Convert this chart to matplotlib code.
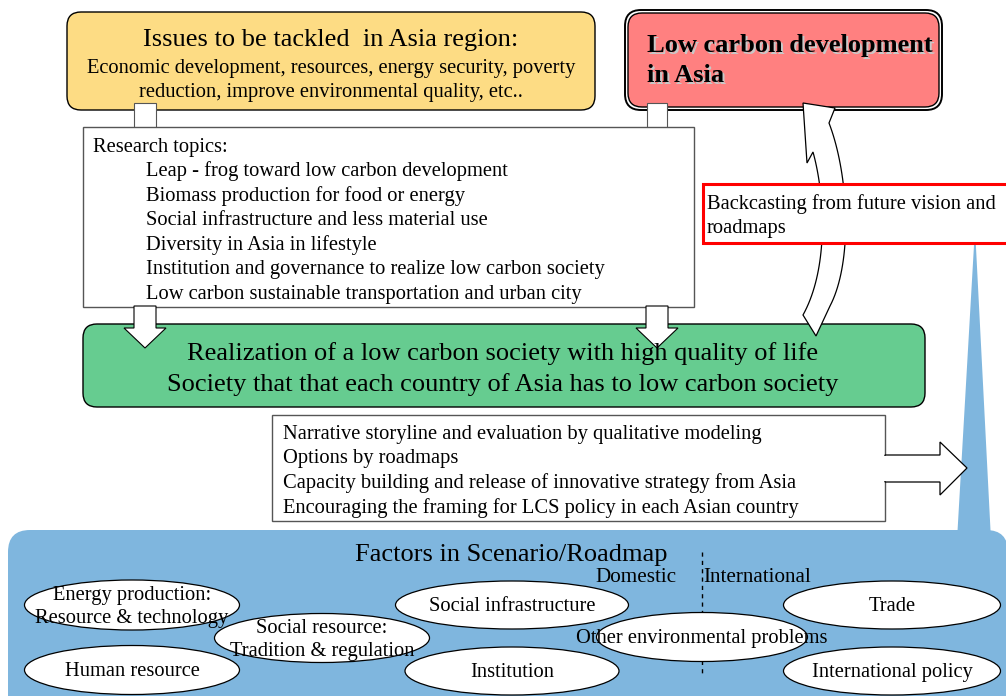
import numpy as np
import matplotlib
matplotlib.use("Agg")
import matplotlib.pyplot as plt
from matplotlib.patches import FancyBboxPatch, Rectangle, Ellipse, Polygon

plt.rcParams["font.family"] = ["Liberation Serif", "DejaVu Serif"]

# --- texts -------------------------------------------------------------
issues_title = "Issues to be tackled  in Asia region:"
issues_lines = ["Economic development, resources, energy security, poverty",
                "reduction, improve environmental quality, etc.."]
goal_lines = ["Low carbon development", "in Asia"]
topics_head = "Research topics:"
topics = ["Leap - frog toward low carbon development",
          "Biomass production for food or energy",
          "Social infrastructure and less material use",
          "Diversity in Asia in lifestyle",
          "Institution and governance to realize low carbon society",
          "Low carbon sustainable transportation and urban city"]
backcast_lines = ["Backcasting from future vision and", "roadmaps"]
society_lines = ["Realization of a low carbon society with high quality of life",
                 "Society that that each country of Asia has to low carbon society"]
outputs = ["Narrative storyline and evaluation by qualitative modeling",
           "Options by roadmaps",
           "Capacity building and release of innovative strategy from Asia",
           "Encouraging the framing for LCS policy in each Asian country"]
factors_title = "Factors in Scenario/Roadmap"
factors = ["Energy production:\nResource & technology", "Human resource",
           "Social resource:\nTradition & regulation", "Social infrastructure",
           "Institution", "Other environmental problems", "Trade",
           "International policy"]
scope_labels = ["Domestic", "International"]

YELLOW = "#FDDC84"
RED = "#FF8080"
GREEN = "#66CC90"
BLUE = "#7FB6DE"
FS = 14.8  # body text size

fig = plt.figure(figsize=(10.06, 6.96), dpi=100)
ax = fig.add_axes([0, 0, 1, 1])
ax.set_xlim(0, 1006)
ax.set_ylim(696, 0)
ax.axis("off")


def rbox(x, y, w, h, fc, ec="black", r=14, lw=1.0, z=1):
    p = FancyBboxPatch((x, y), w, h, boxstyle=f"round,pad=0,rounding_size={r}",
                       fc=fc, ec=ec, lw=lw, zorder=z)
    ax.add_patch(p)


def down_arrow(xc, y0, y1, shaft=22, head=42, head_len=20, z=3):
    hs, hh = shaft / 2, head / 2
    yb = y1 - head_len
    pts = [(xc - hs, y0), (xc + hs, y0), (xc + hs, yb), (xc + hh, yb),
           (xc, y1), (xc - hh, yb), (xc - hs, yb)]
    ax.add_patch(Polygon(pts, closed=True, fc="white", ec="black", lw=0.8, zorder=z))


def bezier(p, n=40):
    p = np.asarray(p, dtype=float)
    t = np.linspace(0, 1, n)[:, None]
    return ((1 - t) ** 3 * p[0] + 3 * (1 - t) ** 2 * t * p[1]
            + 3 * (1 - t) * t ** 2 * p[2] + t ** 3 * p[3])


# --- blue factor panel and spike ----------------------------------------
ax.add_patch(Polygon([(975, 228), (991, 540), (957, 540)], closed=True,
                     fc=BLUE, ec="none", zorder=1))
rbox(8, 530, 1000, 200, BLUE, ec="none", r=22, z=1)

# --- top boxes -------------------------------------------------------
rbox(67, 12, 528, 98, YELLOW, lw=1.0, z=2)
ax.text(331, 46, issues_title, ha="center", va="baseline", fontsize=19, zorder=5)
for i, s in enumerate(issues_lines):
    ax.text(331, 73 + 24 * i, s, ha="center", va="baseline", fontsize=FS, zorder=5)

rbox(625, 10, 317, 100, "white", lw=1.4, r=16, z=2)
rbox(628, 13, 311, 94, RED, lw=1.0, r=14, z=2)
for i, s in enumerate(goal_lines):
    ax.text(649, 54 + 30 * i, s, ha="left", va="baseline", fontsize=19,
            fontweight="bold", color="#C8C8C8", zorder=4)
    ax.text(647, 52 + 30 * i, s, ha="left", va="baseline", fontsize=19,
            fontweight="bold", color="black", zorder=5)

# connectors from issues box into topics box
for x0, x1 in [(134, 156), (647, 667)]:
    ax.add_patch(Rectangle((x0, 103), x1 - x0, 26, fc="white", ec="#555555",
                           lw=0.8, zorder=3))

# --- research topics box ------------------------------------------
ax.add_patch(Rectangle((83, 127), 611, 180, fc="white", ec="#555555", lw=1.0, zorder=3))
ax.text(93, 152, topics_head, ha="left", va="baseline", fontsize=FS, zorder=5)
for i, s in enumerate(topics):
    ax.text(146, 176 + 24.6 * i, s, ha="left", va="baseline", fontsize=FS, zorder=5)

# --- society box ------------------------------------------------------
rbox(83, 324, 842, 83, GREEN, lw=1.0, r=14, z=2)
for i, s in enumerate(society_lines):
    ax.text(503, 360 + 31 * i, s, ha="center", va="baseline", fontsize=19, zorder=6)

down_arrow(145, 306, 348)
down_arrow(657, 306, 348)

# --- curved backcasting arrow -----------------------------------------
left_edge = bezier([(813, 152), (825, 195), (829, 268), (803, 315)])
right_edge = bezier([(829, 123), (849, 175), (853, 262), (830, 306)])
head = [(829, 123), (835, 108), (803, 103), (807, 163), (813, 152)]
tail = [(816, 336)]
outline = np.vstack([head, left_edge, tail, right_edge[::-1]])
ax.add_patch(Polygon(outline, closed=True, fc="white", ec="black", lw=0.9, zorder=4))

# --- backcasting label -------------------------------------------------
ax.add_patch(Rectangle((703, 184), 310, 59, fc="white", ec="#FF0000", lw=2.2, zorder=5))
for i, s in enumerate(backcast_lines):
    ax.text(707, 209 + 24 * i, s, ha="left", va="baseline", fontsize=FS, zorder=6)

# --- outputs box with right arrow ---------------------------------------
ax.add_patch(Rectangle((272, 415), 613, 106, fc="white", ec="#555555", lw=1.0, zorder=3))
arrow_pts = [(885, 455), (940, 455), (940, 442), (967, 468), (940, 495),
             (940, 482), (885, 482)]
ax.add_patch(Polygon(arrow_pts, closed=True, fc="white", ec="black", lw=0.9, zorder=4))
ax.add_patch(Rectangle((883, 456), 4, 25, fc="white", ec="none", zorder=5))
for i, s in enumerate(outputs):
    ax.text(283, 439 + 24.5 * i, s, ha="left", va="baseline", fontsize=FS, zorder=6)

# --- factors ----------------------------------------------------------
ax.text(511, 561, factors_title, ha="center", va="baseline", fontsize=19, zorder=6)
ax.plot([702, 702], [552, 673], ls=(0, (3, 3)), color="black", lw=1.0, zorder=2)
ax.text(636, 582, scope_labels[0], ha="center", va="baseline", fontsize=15.2, zorder=6)
ax.text(703, 582, scope_labels[1], ha="left", va="baseline", fontsize=15.2, zorder=6)

ell_centers = [(132, 605), (132, 670), (322, 638), (512, 605), (512, 671),
               (702, 637), (892, 605), (892, 671)]
ell_sizes = [(215, 50), (215, 49), (215, 49), (233, 48), (214, 48),
             (211, 49), (217, 48), (217, 48)]
for (cx, cy), (w, h), label in zip(ell_centers, ell_sizes, factors):
    ax.add_patch(Ellipse((cx, cy), w, h, fc="white", ec="black", lw=0.9, zorder=3))
    lines = label.split("\n")
    if len(lines) == 1:
        ax.text(cx, cy + 6, label, ha="center", va="baseline", fontsize=FS, zorder=7)
    else:
        for j, s in enumerate(lines):
            ax.text(cx, cy - 5 + 23 * j, s, ha="center", va="baseline",
                    fontsize=FS, zorder=7)

fig.savefig("out.png", dpi=100)
